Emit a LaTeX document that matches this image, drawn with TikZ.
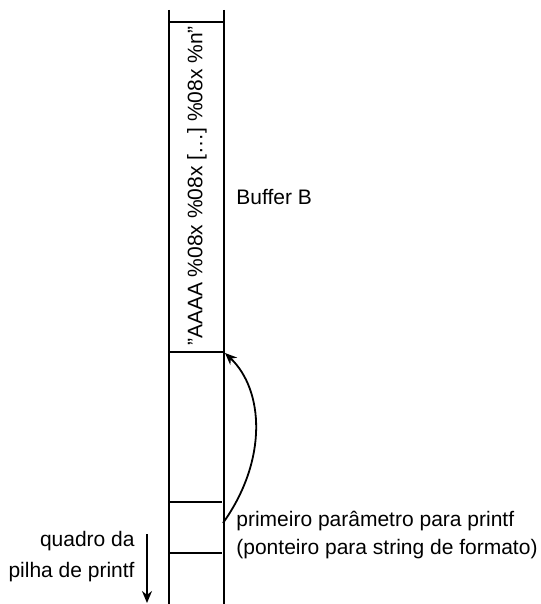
\documentclass[tikz,border=0pt]{standalone}
\usepackage{fontspec}
\setmainfont{Liberation Sans}
\usetikzlibrary{arrows.meta}
\begin{document}
\begin{tikzpicture}[x=0.5pt,y=-0.5pt,font=\fontsize{10.5}{12}\selectfont]

    \tikzset{
      wall/.style={
        line width=1pt,
      },
      note/.style={
        inner sep=0pt,
        anchor=west,
      },
    }
    \useasboundingbox (0,0) rectangle (540,604);

	% stack column
	\coordinate (lt) at (169,10);
	\coordinate (lb) at (169,604);
	\coordinate (rt) at (224,10);
	\coordinate (rb) at (224,604);
	\draw[wall] (lt)--(lb);
	\draw[wall] (rt)--(rb);

	\draw[wall] (169,22)--(224,22);
	\draw[wall] (169,352)--(224,352);
	\draw[wall] (169,502)--(222,502);
	\draw[wall] (169,553)--(222,553);

	\node[inner sep=0pt, rotate=90] (fmt) at (197,186) {"AAAA \%08x \%08x [\dots] \%08x \%n"};
	\node[note] (buf) at (236,197) {Buffer B};

	\node[note] (param) at (236,521) {primeiro parâmetro para printf};
	\node[note] (ptr) at (236,549) {(ponteiro para string de formato)};

	\node[inner sep=0pt, anchor=east] (frame1) at (135,541) {quadro da};
	\node[inner sep=0pt, anchor=east] (frame2) at (135,572) {pilha de printf};

	\coordinate (down1) at (147,534);
	\coordinate (down2) at (147,603);
	\draw[line width=0.9pt, -{Stealth[length=6pt,width=5pt]}] (down1)--(down2);

	\coordinate (from) at (223,523);
	\coordinate (to) at (225,353);
	\draw[line width=0.9pt, -{Stealth[length=6pt,width=5pt]}] (from) .. controls (268,460) and (264,390) .. (to);

\end{tikzpicture}
\end{document}
